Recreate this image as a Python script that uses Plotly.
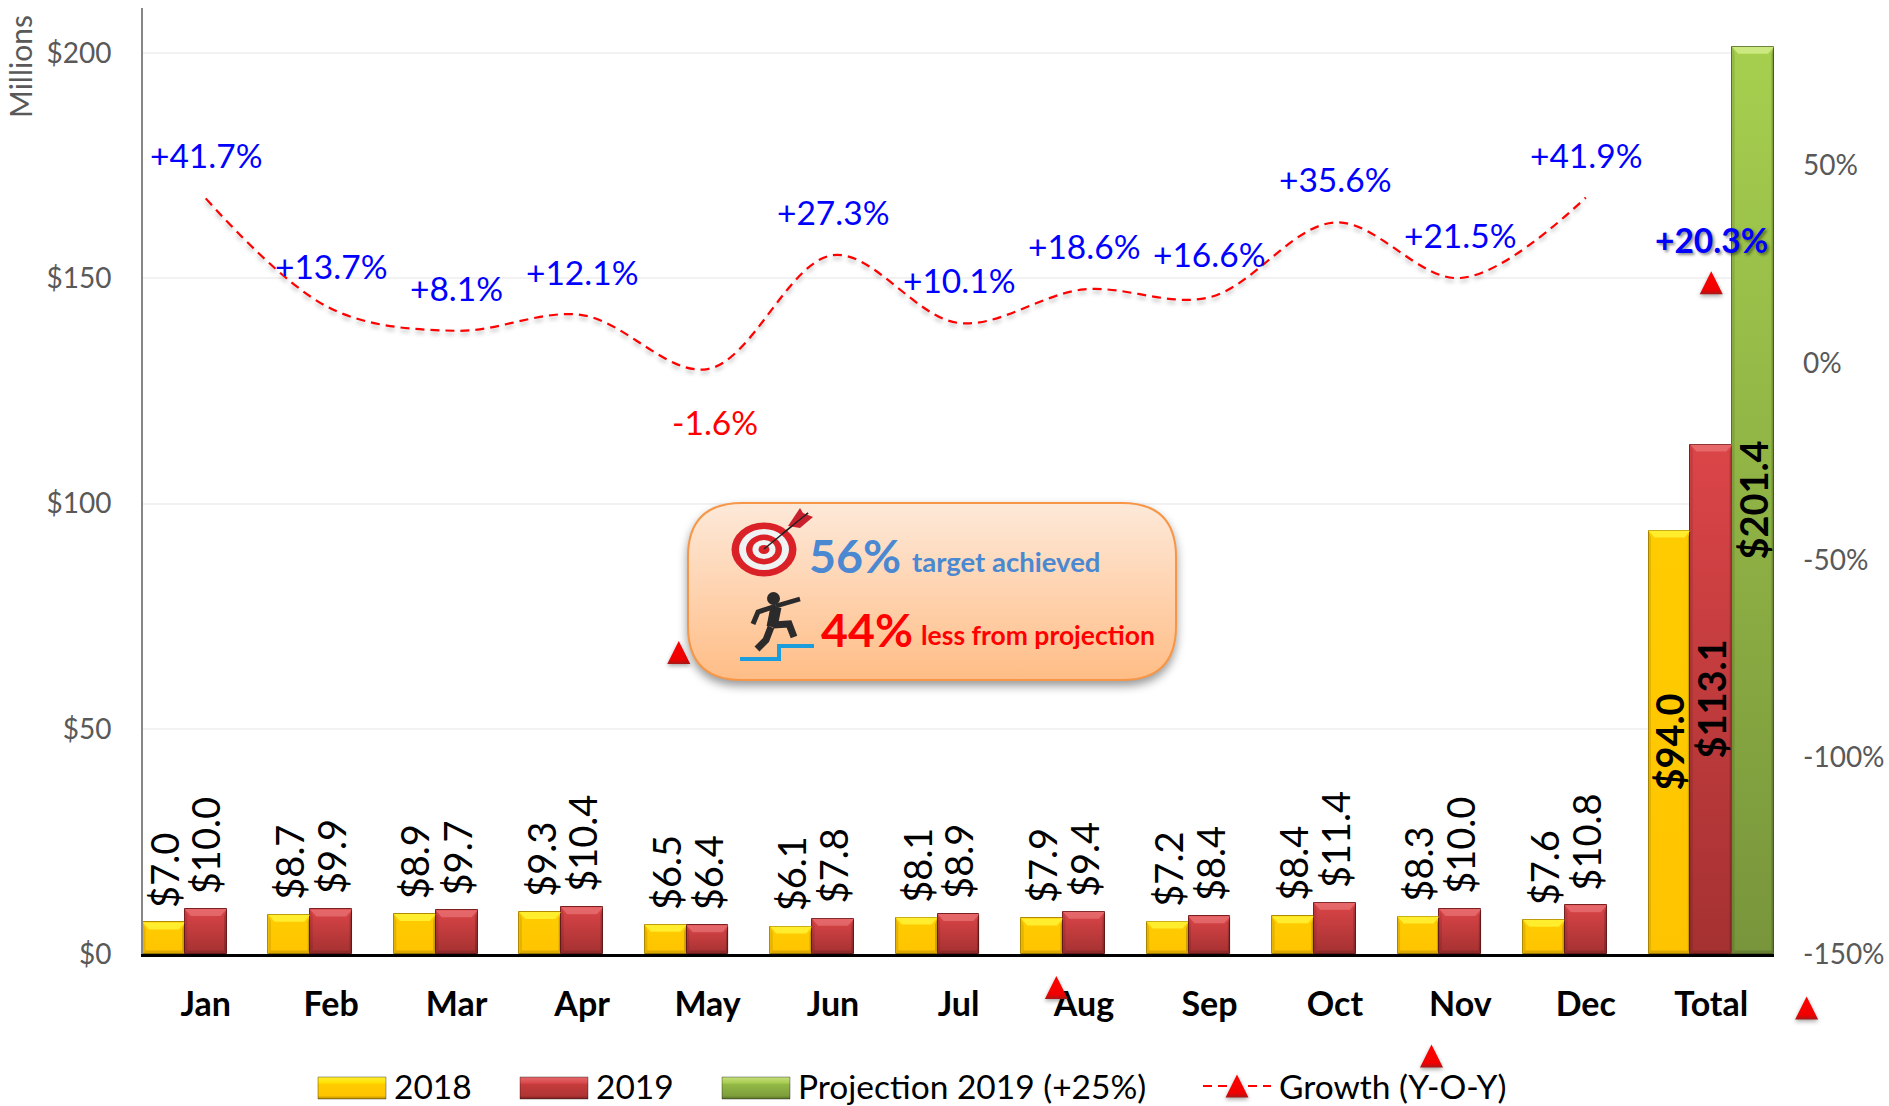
import plotly.graph_objects as go

months = ["Jan", "Feb", "Mar", "Apr", "May", "Jun", "Jul", "Aug", "Sep", "Oct", "Nov", "Dec", "Total"]
sales_2018 = [7.0, 8.7, 8.9, 9.3, 6.5, 6.1, 8.1, 7.9, 7.2, 8.4, 8.3, 7.6, 94.0]
sales_2019 = [10.0, 9.9, 9.7, 10.4, 6.4, 7.8, 8.9, 9.4, 8.4, 11.4, 10.0, 10.8, 113.1]
projection_2019 = [None] * 12 + [201.4]
growth = [41.7, 13.7, 8.1, 12.1, -1.6, 27.3, 10.1, 18.6, 16.6, 35.6, 21.5, 41.9, 20.3]
stray_x = [3.77, 6.78, 9.77, 12.76]
stray_growth = [-73.5, -158.5, -175.9, -163.7]
left_ticks = [0, 50, 100, 150, 200]
left_labels = ["$0", "$50", "$100", "$150", "$200"]
right_ticks = [-150, -100, -50, 0, 50]
right_labels = ["-150%", "-100%", "-50%", "0%", "50%"]

FONT = "Lato, Carlito, Calibri, sans-serif"
W, H = 1889, 1106
L, R, T, Bm = 143, 50, 8, 20
PW, PH = W - L - R, H - T - Bm
BOTTOM = H - Bm
AX_RIGHT, AX_BOTTOM = 1774, 954
XD = (AX_RIGHT - L) / PW
YD = (BOTTOM - AX_BOTTOM) / PH
CAT = (AX_RIGHT - L) / 13
UNIT_Y = (AX_BOTTOM - T) / 210
UNIT_Y2 = (AX_BOTTOM - T) / 240


def px(x):
    return (x - L) / PW


def py(y):
    return (BOTTOM - y) / PH


def path(points, close=False):
    s = "M" + " L".join(f"{px(a):.5f},{py(b):.5f}" for a, b in points)
    return s + (" Z" if close else "")


def money(v, bold=False):
    t = f"${v:.1f}"
    return f"<b>{t}</b>" if bold else t


x_pos = list(range(13))
fig = go.Figure()
anns = []
for k, (name, vals, col, line) in enumerate([
    ("2018", sales_2018, "#FFC800", "#B08A00"),
    ("2019", sales_2019, "#C83C3C", "#7A2020"),
    ("Projection 2019 (+25%)", projection_2019, "#8DB043", "#5A7028"),
]):
    # only the Total column carries its value inside the bar
    inner = ["" if i != 12 else money(v, True) for i, v in enumerate(vals)]
    fig.add_trace(go.Bar(
        x=x_pos, y=vals, name=name, marker=dict(color=col, line=dict(color=line, width=1)),
        text=inner, textposition="inside", textangle=-90, insidetextanchor="middle",
        constraintext="none", cliponaxis=False, textfont=dict(family=FONT, size=38, color="#000"),
        hoverinfo="skip"))
    for i, v in enumerate(vals[:12]):
        if v is None:
            continue
        anns.append(dict(x=i + (k - 1) / 3, y=v, xref="x", yref="y", showarrow=False, text=money(v),
                         textangle=-90, xanchor="center", yanchor="bottom", xshift=0, yshift=13,
                         font=dict(family=FONT, size=38, color="#000")))

# growth line: Jan-Dec, spline, on secondary axis
fig.add_trace(go.Scatter(
    x=x_pos[:12], y=growth[:12], yaxis="y2", mode="lines", showlegend=False,
    line=dict(color="#FF0000", width=2.2, dash="9px,6px", shape="spline", smoothing=1.0), hoverinfo="skip"))
fig.add_trace(go.Scatter(
    x=x_pos[12:], y=growth[12:], yaxis="y2", mode="markers", showlegend=False,
    marker=dict(symbol="triangle-up", size=20, color="#FF0000"), hoverinfo="skip"))
fig.add_trace(go.Scatter(
    x=[None], y=[None], yaxis="y2", mode="lines+markers", name="Growth (Y-O-Y)",
    line=dict(color="#FF0000", width=2.2, dash="9px,6px"),
    marker=dict(symbol="triangle-up", size=20, color="#FF0000"), hoverinfo="skip"))
# stray points that sit off the growth line
fig.add_trace(go.Scatter(
    x=stray_x, y=stray_growth, xaxis="x3", yaxis="y3", mode="markers", showlegend=False,
    marker=dict(symbol="triangle-up", size=20, color="#FF0000"), hoverinfo="skip"))

shapes = []
# bevels on bars
bev_x = 6 / CAT
bev_y = 7 / UNIT_Y
edge_x = 2.5 / CAT
low_y = 3.5 / UNIT_Y
cap_colors = ["rgba(255,255,70,0.65)", "rgba(255,170,170,0.35)", "rgba(235,255,170,0.55)"]
for k, vals in enumerate([sales_2018, sales_2019, projection_2019]):
    for i, v in enumerate(vals):
        if v is None:
            continue
        x0 = i + (k - 1) / 3 - 1 / 6
        x1 = x0 + 1 / 3
        def trap(pts, col):
            d = "M" + " L".join(f"{a:.4f},{b:.3f}" for a, b in pts) + " Z"
            shapes.append(dict(type="path", path=d, xref="x", yref="y", fillcolor=col,
                               line=dict(width=0), layer="above"))
        trap([(x0, v), (x1, v), (x1 - bev_x, v - bev_y), (x0 + bev_x, v - bev_y)], cap_colors[k])
        trap([(x1, v), (x1, 0), (x1 - edge_x, low_y), (x1 - edge_x, v - bev_y)], "rgba(0,0,0,0.20)")
        trap([(x0, v), (x0, 0), (x0 + edge_x, low_y), (x0 + edge_x, v - bev_y)], "rgba(0,0,0,0.10)")
        trap([(x0, 0), (x1, 0), (x1 - edge_x, low_y), (x0 + edge_x, low_y)], "rgba(0,0,0,0.14)")

# callout box
bx0, bx1, by0, by1, r = 688, 1176, 503, 680, 54
box = (f"M{px(bx0 + r):.5f},{py(by0):.5f} L{px(bx1 - r):.5f},{py(by0):.5f} "
       f"Q{px(bx1):.5f},{py(by0):.5f} {px(bx1):.5f},{py(by0 + r):.5f} "
       f"L{px(bx1):.5f},{py(by1 - r):.5f} Q{px(bx1):.5f},{py(by1):.5f} {px(bx1 - r):.5f},{py(by1):.5f} "
       f"L{px(bx0 + r):.5f},{py(by1):.5f} Q{px(bx0):.5f},{py(by1):.5f} {px(bx0):.5f},{py(by1 - r):.5f} "
       f"L{px(bx0):.5f},{py(by0 + r):.5f} Q{px(bx0):.5f},{py(by0):.5f} {px(bx0 + r):.5f},{py(by0):.5f} Z")
shapes.append(dict(type="path", path=box, xref="paper", yref="paper", fillcolor="#FDCBA1",
                   line=dict(color="#F79646", width=2), layer="above"))

# target icon
cx, cy = 764, 549.5
for rx, ry, c in [(32.5, 27, "#DA2128"), (25, 20.5, "#EFF3F4"), (18, 15, "#DA2128"), (11.5, 9.5, "#EFF3F4"), (5.5, 4.5, "#DA2128")]:
    shapes.append(dict(type="circle", xref="paper", yref="paper", x0=px(cx - rx), x1=px(cx + rx),
                       y0=py(cy + ry), y1=py(cy - ry), fillcolor=c, line=dict(width=0), layer="above"))
shapes.append(dict(type="path", xref="paper", yref="paper", layer="above", path=path([(764, 549), (808, 513)]),
                   line=dict(color="#222222", width=1.5)))
shapes.append(dict(type="path", xref="paper", yref="paper", layer="above", fillcolor="#C8202C", line=dict(width=0),
                   path=path([(788, 526), (800, 508), (803, 513), (813, 517), (800, 528)], True)))
shapes.append(dict(type="path", xref="paper", yref="paper", layer="above", path=path([(782, 534), (808, 513)]),
                   line=dict(color="#222222", width=1.5)))

# climbing figure
DARK = "#2B2B2B"
shapes.append(dict(type="circle", xref="paper", yref="paper", layer="above", x0=px(767), x1=px(780),
                   y0=py(605), y1=py(592), fillcolor=DARK, line=dict(width=0)))
for pts, w in [([(776, 607), (772, 627)], 11), ([(776, 606), (800, 599)], 4.5), ([(776, 606), (758, 612), (753, 624)], 5),
               ([(773, 625), (789, 624), (794, 637)], 7), ([(771, 627), (766, 640), (757, 649)], 7)]:
    shapes.append(dict(type="path", xref="paper", yref="paper", layer="above", path=path(pts),
                       line=dict(color=DARK, width=w)))
shapes.append(dict(type="path", xref="paper", yref="paper", layer="above",
                   path=path([(740, 659), (779, 659), (779, 646), (814, 646)]),
                   line=dict(color="#1B9DDB", width=4)))

# Growth labels
for i, g in enumerate(growth):
    lab = f"{g:+.1f}%"
    neg = g < 0
    total = i == 12
    anns.append(dict(
        x=i, y=g, xref="x", yref="y2", showarrow=False,
        text=f"<b>{lab}</b>" if total else lab, xshift=7 if neg else 0, yshift=-53 if neg else 43,
        font=dict(family=FONT, size=33.5, color="#FF0000" if neg else "#0000FF",
                  shadow="2px 2px 3px rgba(0,0,0,0.45)" if total else "none")))
anns.append(dict(xref="paper", yref="paper", x=px(20), y=py(66), text="Millions", textangle=-90, showarrow=False,
                 xanchor="center", yanchor="middle", font=dict(family=FONT, size=30, color="#595959")))
for X, Y, txt, size, col in [
    (807, 555, "<b>56%</b>", 46.5, "#4A88D2"),
    (910, 561, "<b>target achieved</b>", 27.5, "#4A88D2"),
    (819, 629, "<b>44%</b>", 46.5, "#FF0000"),
    (919, 635, "<b>less from projection</b>", 26.5, "#FF0000"),
]:
    anns.append(dict(xref="paper", yref="paper", x=px(X), y=py(Y), xanchor="left", yanchor="middle", showarrow=False,
                     text=txt, font=dict(family=FONT, size=size, color=col)))

fig.update_layout(
    width=W, height=H, autosize=False,
    margin=dict(l=L, r=R, t=T, b=Bm, pad=0, autoexpand=False),
    paper_bgcolor="#FFFFFF", plot_bgcolor="rgba(0,0,0,0)",
    barmode="group", bargap=0, bargroupgap=0,
    font=dict(family=FONT, color="#000"),
    xaxis=dict(domain=[0, XD], range=[-0.5, 12.5], tickvals=x_pos, ticktext=[f"<b>{m}</b>" for m in months],
               tickfont=dict(family=FONT, size=34, color="#000"), ticks="", ticklabelstandoff=18,
               showline=True, linecolor="#000", linewidth=3, showgrid=False, zeroline=False, anchor="y"),
    yaxis=dict(domain=[YD, 1], range=[0, 210], tickvals=left_ticks, ticktext=left_labels,
               tickfont=dict(family=FONT, size=28, color="#595959"), ticks="", ticklabelstandoff=24,
               showgrid=True, gridcolor="#F2F2F2", gridwidth=2, showline=True, linecolor="#868686", linewidth=2,
               zeroline=False, anchor="x"),
    yaxis2=dict(overlaying="y", side="right", range=[-150, 90], tickvals=right_ticks, ticktext=right_labels,
                tickfont=dict(family=FONT, size=28, color="#595959"), ticks="", ticklabelstandoff=28,
                showgrid=False, showline=False, zeroline=False, anchor="x"),
    xaxis3=dict(domain=[0, 1], range=[-0.5, -0.5 + PW / CAT], visible=False, anchor="y3"),
    yaxis3=dict(domain=[0, 1], range=[-150 - (BOTTOM - AX_BOTTOM) / UNIT_Y2, 90], visible=False, anchor="x3"),
    legend=dict(orientation="h", x=px(308), y=py(1068), xanchor="left", yanchor="top", itemwidth=68,
                bgcolor="rgba(0,0,0,0)", font=dict(family=FONT, size=33.5, color="#000"), traceorder="normal"),
    shapes=shapes, annotations=anns, showlegend=True,
)

post = r"""
document.body.style.margin='0';document.documentElement.style.overflow='hidden';
var gd=document.getElementById('{plot_id}');
var NS='http://www.w3.org/2000/svg';
var svg=gd.querySelector('svg.main-svg');
var defs=document.createElementNS(NS,'defs');svg.insertBefore(defs,svg.firstChild);
function grad(id,stops){var g=document.createElementNS(NS,'linearGradient');g.setAttribute('id',id);
 g.setAttribute('x1','0');g.setAttribute('y1','0');g.setAttribute('x2','0');g.setAttribute('y2','1');
 stops.forEach(function(s){var e=document.createElementNS(NS,'stop');e.setAttribute('offset',s[0]);e.setAttribute('stop-color',s[1]);g.appendChild(e);});
 defs.appendChild(g);}
grad('g0',[[0,'#FFCC00'],[1,'#FFC400']]);
grad('g1',[[0,'#DB4548'],[1,'#A53131']]);
grad('g2',[[0,'#A6CF4E'],[1,'#78953B']]);
grad('gt',[[0,'#FF0000'],[0.8,'#F00000'],[1,'#A81818']]);
grad('gb',[[0,'#FDE9D9'],[1,'#FFBD86']]);
grad('l0',[[0,'#FFEE33'],[0.28,'#FFE000'],[0.32,'#FFCC00'],[0.85,'#FFC400'],[1,'#B08A00']]);
grad('l1',[[0,'#E46A6A'],[0.28,'#D9484C'],[0.32,'#C63C3C'],[0.85,'#B03434'],[1,'#7A2020']]);
grad('l2',[[0,'#C4DE7C'],[0.28,'#A8CC50'],[0.32,'#94BA46'],[0.85,'#7E9E3C'],[1,'#5A7028']]);
gd.querySelectorAll('.barlayer .trace').forEach(function(t,i){
  t.querySelectorAll('.point path').forEach(function(p){p.style.fill='url(#g'+i+')';});});
var tri='M-11.5,11.5H11.5L0,-11.5Z';
gd.querySelectorAll('.scatterlayer path.point, .legend path.scatterpts').forEach(function(p){
  p.setAttribute('d',tri);p.style.fill='url(#gt)';p.style.filter='drop-shadow(0 2px 2px rgba(0,0,0,.35))';});
gd.querySelectorAll('.scatterlayer path.js-line').forEach(function(p){
  p.style.filter='drop-shadow(0 3px 2px rgba(0,0,0,.3))';});
gd.querySelectorAll('.shapelayer path').forEach(function(p){
  if(p.style.fill==='rgb(253, 203, 161)'){p.style.fill='url(#gb)';p.style.filter='drop-shadow(0 5px 5px rgba(0,0,0,.4))';}});
// legend: wide bevelled swatches, spread as in the original
var lg=gd.querySelector('.legend');lg.setAttribute('transform','translate(0,0)');
var sb=lg.querySelector('.scrollbox');if(sb){sb.removeAttribute('clip-path');sb.style.clipPath='none';}
var xs=[313,515,717,1198];
lg.querySelectorAll('.traces').forEach(function(t,i){
  t.setAttribute('transform','translate('+xs[i]+',1086)');
  var tx=t.querySelector('text.legendtext');
  if(tx){tx.setAttribute('x',parseFloat(tx.getAttribute('x')||0)+3);}
  if(i<3){var p=t.querySelector('.legendpoints path');
    if(p){p.setAttribute('d','M34,13H-34V-9H34Z');p.style.fill='url(#l'+i+')';p.style.stroke='rgba(0,0,0,.35)';p.style.strokeWidth='1px';}}
});
"""
fig.write_html("out.html", post_script=post, config={"displayModeBar": False})
